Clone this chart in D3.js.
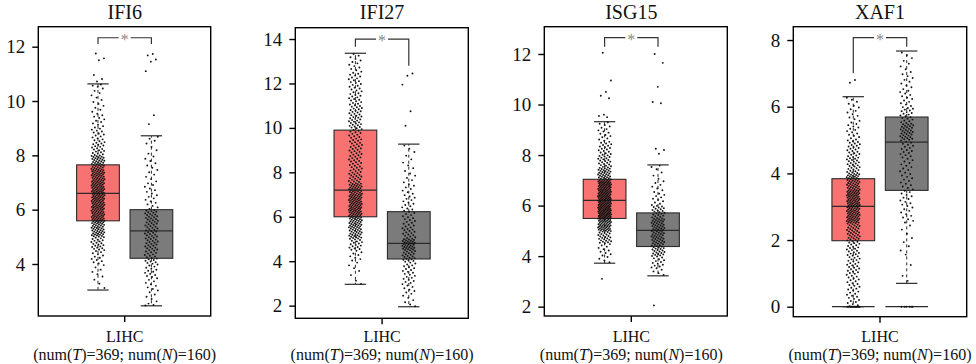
<!DOCTYPE html>
<html>
<head>
<meta charset="utf-8">
<script src="https://cdn.jsdelivr.net/npm/d3@7"></script>
<style>
  body { margin: 0; background: #fff; }
  svg text { font-family: "Liberation Serif", "Times New Roman", serif !important; }
</style>
</head>
<body>
<div id="chart"></div>
<script>
// ---- data ----
const genes = ["IFI6", "IFI27", "ISG15", "XAF1"];
const groups = ["T", "N"];
const cancer = "LIHC";
const nTumor = 369, nNormal = 160;

const yTicks = [
  [4, 6, 8, 10, 12],
  [2, 4, 6, 8, 10, 12, 14],
  [2, 4, 6, 8, 10, 12],
  [0, 2, 4, 6, 8]
];
const yDomains = [[2.085, 12.736], [1.43, 14.51], [1.63, 13.08], [-0.3, 8.4]];

// [q1, median, q3, lower whisker, upper whisker]
const tumorBox = [
  [5.59, 6.6, 7.65, 3.04, 10.63],
  [6.0, 7.2, 9.9, 2.96, 13.36],
  [5.49, 6.21, 7.04, 3.72, 9.32],
  [1.98, 3.01, 3.84, 0, 6.3]
];
const normalBox = [
  [4.21, 5.22, 6.0, 2.46, 8.72],
  [4.1, 4.8, 6.23, 1.95, 9.27],
  [4.38, 5.02, 5.71, 3.22, 7.61],
  [3.49, 4.94, 5.69, 0.7, 7.67]
];

// counts of points per 0.5-wide bin (inside the whiskers), first bin starts at binStart
const tumorBinStart = [3.0, 2.5, 3.5, 0];
const tumorBins = [
  [3, 6, 12, 22, 38, 46, 48, 48, 44, 36, 20, 14, 10, 7, 6, 3],
  [1, 2, 4, 8, 16, 28, 33, 38, 38, 32, 20, 16, 16, 16, 14, 19, 17, 14, 12, 12, 8, 5],
  [4, 10, 26, 48, 64, 60, 58, 34, 22, 17, 11, 6],
  [16, 18, 22, 24, 34, 56, 60, 46, 28, 22, 14, 10, 5]
];
const normalBinStart = [2.0, 1.5, 3.0, 0.5];
const normalBins = [
  [2, 6, 9, 13, 19, 22, 22, 24, 9, 8, 6, 6, 4, 3],
  [1, 5, 8, 11, 12, 20, 30, 16, 12, 10, 9, 7, 5, 4, 3, 2],
  [4, 14, 26, 30, 32, 22, 10, 7, 4, 2],
  [2, 1, 4, 4, 10, 12, 12, 12, 16, 32, 20, 12, 9, 6, 2]
];
const tumorOutliers = [
  [11.75, 11.57, 11.5, 10.96, 10.81, 10.72],
  [],
  [12.05, 10.95, 10.5, 10.35, 10.25, 9.6, 9.55, 9.5, 3.1],
  [6.8, 6.72]
];
const normalOutliers = [
  [11.73, 11.68, 11.53, 11.45, 11.1, 9.48, 9.15],
  [12.45, 12.35, 11.95, 10.75, 10.1],
  [12.0, 11.65, 10.7, 10.1, 10.05, 8.25, 8.2, 8.05, 2.05],
  []
];
const tumorZeros = [0, 0, 0, 12];
const normalZeros = [0, 0, 0, 6];

// significance bracket: top value, end of the T leg, end of the N leg
const bracketTop = [12.33, 14.0, 12.645, 8.07];
const bracketLegT = [12.1, 13.65, 12.29, 7.0];
const bracketLegN = [12.1, 12.8, 12.29, 7.8];

// ---- layout ----
const W = 976, H = 364;
const frameLeft = [38.3, 295.3, 544.3, 793.3];
const frameRight = [210.7, 468.3, 727.3, 966.7];
const frameTop = [26.7, 27.7, 26.7, 26.7];
const frameBottom = [316, 318.3, 316, 316.7];
const centerX = [124.7, 382.1, 631.3, 880];
const halfSpan = 86.2;

const tumorFill = "#f87272", normalFill = "#7b7b7b", lineCol = "#2b2b2b";

const svg = d3.select("#chart").append("svg")
  .attr("width", W).attr("height", H);

const phi = 0.6180339887;
let jitterIdx = 0;
function jitter() { jitterIdx++; return ((jitterIdx * phi + 0.37) % 1) * 2 - 1; }

function groupValues(start, counts, lo, hi, zeros, outliers) {
  const vals = [];
  for (let z = 0; z < zeros; z++) vals.push(0);
  counts.forEach((c, i) => {
    const a = Math.max(start + i * 0.5, lo), b = Math.min(start + (i + 1) * 0.5, hi);
    for (let k = 0; k < c; k++) vals.push(a + (k + 0.5) / c * (b - a));
  });
  return vals.concat(outliers);
}

genes.forEach((gene, p) => {
  const g = svg.append("g");
  const y = d3.scaleLinear().domain(yDomains[p]).range([frameBottom[p], frameTop[p]]);
  const x = d3.scalePoint().domain(groups)
    .range([centerX[p] - halfSpan, centerX[p] + halfSpan]).padding(1.114);
  const step = x.step();
  const bw = step * 0.8;

  // title
  g.append("text").attr("x", centerX[p]).attr("y", 19)
    .attr("text-anchor", "middle").attr("font-size", 20).attr("fill", "#111").text(gene);

  // boxes
  const boxes = [
    { grp: "T", s: tumorBox[p], fill: tumorFill, zeros: tumorZeros[p],
      vals: groupValues(tumorBinStart[p], tumorBins[p], tumorBox[p][3], tumorBox[p][4], tumorZeros[p], tumorOutliers[p]) },
    { grp: "N", s: normalBox[p], fill: normalFill, zeros: normalZeros[p],
      vals: groupValues(normalBinStart[p], normalBins[p], normalBox[p][3], normalBox[p][4], normalZeros[p], normalOutliers[p]) }
  ];

  boxes.forEach(b => {
    const cx = x(b.grp);
    const [q1, med, q3, lo, hi] = b.s;
    // whiskers
    g.append("line").attr("x1", cx).attr("x2", cx).attr("y1", y(q3)).attr("y2", y(hi))
      .attr("stroke", lineCol).attr("stroke-dasharray", "3,3");
    g.append("line").attr("x1", cx).attr("x2", cx).attr("y1", y(q1)).attr("y2", y(lo))
      .attr("stroke", lineCol).attr("stroke-dasharray", "3,3");
    [lo, hi].forEach(v => g.append("line")
      .attr("x1", cx - bw / 4).attr("x2", cx + bw / 4).attr("y1", y(v)).attr("y2", y(v))
      .attr("stroke", lineCol).attr("stroke-width", 1.2));
    if (b.zeros > 0) {
      g.append("line").attr("x1", cx - bw / 2).attr("x2", cx + bw / 2)
        .attr("y1", y(0)).attr("y2", y(0)).attr("stroke", lineCol).attr("stroke-width", 1.2);
    }
    g.append("rect").attr("x", cx - bw / 2).attr("width", bw)
      .attr("y", y(q3)).attr("height", y(q1) - y(q3))
      .attr("fill", b.fill).attr("stroke", lineCol).attr("stroke-width", 1.1);
    g.append("line").attr("x1", cx - bw / 2).attr("x2", cx + bw / 2)
      .attr("y1", y(med)).attr("y2", y(med)).attr("stroke", lineCol).attr("stroke-width", 1.2);
  });

  // jittered points
  boxes.forEach(b => {
    const cx = x(b.grp);
    g.append("g").selectAll("circle").data(b.vals).join("circle")
      .attr("cx", () => cx + jitter() * 6.6)
      .attr("cy", d => y(d))
      .attr("r", 0.95).attr("fill", "#111");
  });

  // significance bracket
  const xT = x("T"), xN = x("N"), yb = y(bracketTop[p]), xm = (xT + xN) / 2;
  g.append("path")
    .attr("d", `M${xT},${y(bracketLegT[p])}V${yb}H${xm - 6}M${xm + 6},${yb}H${xN}V${y(bracketLegN[p])}`)
    .attr("fill", "none").attr("stroke", "#333").attr("stroke-width", 1.2);
  g.append("text").attr("x", xm).attr("y", yb + 7).attr("text-anchor", "middle")
    .attr("font-size", 16).attr("fill", "#888").text("*");

  // frame
  g.append("rect").attr("x", frameLeft[p]).attr("y", frameTop[p])
    .attr("width", frameRight[p] - frameLeft[p]).attr("height", frameBottom[p] - frameTop[p])
    .attr("fill", "none").attr("stroke", "#000").attr("stroke-width", 1.4);

  // y axis
  const ya = g.append("g").attr("transform", `translate(${frameLeft[p]},0)`)
    .call(d3.axisLeft(y).tickValues(yTicks[p]).tickSize(6).tickPadding(7).tickSizeOuter(0));
  ya.attr("font-family", null);
  ya.select(".domain").remove();
  ya.selectAll(".tick line").attr("stroke", "#000").attr("stroke-width", 1.4);
  ya.selectAll(".tick text").attr("font-size", 19).attr("fill", "#111");

  // x axis: single tick at centre
  g.append("line").attr("x1", centerX[p]).attr("x2", centerX[p])
    .attr("y1", frameBottom[p]).attr("y2", frameBottom[p] + 6)
    .attr("stroke", "#000").attr("stroke-width", 1.4);
  g.append("text").attr("x", centerX[p]).attr("y", 341.5).attr("text-anchor", "middle")
    .attr("font-size", 16).attr("fill", "#111").text(cancer);
  const t2 = g.append("text").attr("x", centerX[p]).attr("y", 360).attr("text-anchor", "middle")
    .attr("font-size", 16).attr("fill", "#111");
  t2.append("tspan").text("(num(");
  t2.append("tspan").attr("font-style", "italic").text("T");
  t2.append("tspan").text(`)=${nTumor}; num(`);
  t2.append("tspan").attr("font-style", "italic").text("N");
  t2.append("tspan").text(`)=${nNormal})`);
});
</script>
</body>
</html>
